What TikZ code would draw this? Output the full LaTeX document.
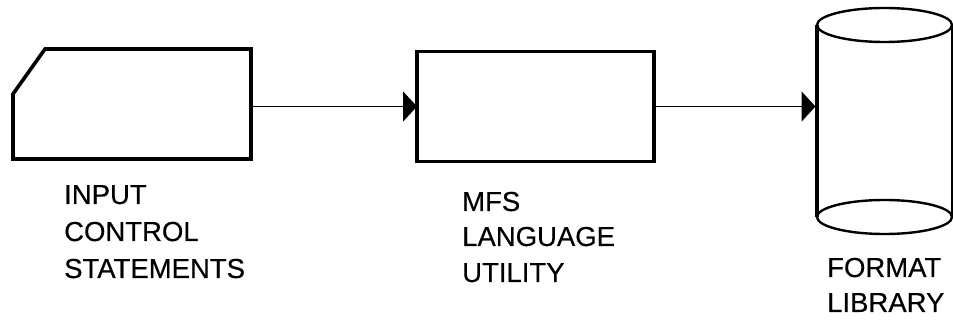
\documentclass[tikz,border=0pt]{standalone}
\usepackage{fontspec}
\newfontfamily\labfont[FakeBold=0.35]{Liberation Sans}
\usetikzlibrary{arrows.meta}
\tikzset{
  shapeline/.style={draw=black, line width=3.6pt, line join=miter},
  thinrim/.style={draw=black, line width=2.4pt},
  flowline/.style={draw=black, line width=1.7pt, -{Triangle[length=14pt,width=30pt]}},
  anchorbox/.style={inner sep=0pt, outer sep=0pt},
  lab/.style={anchor=base west, inner sep=0pt, font=\labfont\fontsize{27.5}{27.5}\selectfont}
}
\begin{document}
\begin{tikzpicture}[x=1pt,y=-1pt]
  \useasboundingbox (0,0) rectangle (953,320);

  \node[anchorbox, minimum width=238pt, minimum height=110pt] (input) at (132,106.5) {};
  \node[shapeline, anchorbox, minimum width=237pt, minimum height=110pt] (utility) at (535.5,106.5) {};
  \node[anchorbox, minimum width=135pt, minimum height=192pt] (library) at (884.5,106.5) {};

  \draw[shapeline] (13,94) -- (45,49) -- (251,49) -- (251,159) -- (13,159) -- cycle;

  \draw[thinrim] (884.5,25) ellipse (67.5 and 17);
  \draw[thinrim] (884.5,217) ellipse (67.5 and 17);
  \draw[shapeline] (817,25) -- (817,217);
  \draw[thinrim] (952,25) -- (952,217);

  \draw[flowline] (input.east) -- (utility.west);
  \draw[flowline] (utility.east) -- ([xshift=-1.5pt]library.west);

  \node[lab] (inputa) at (64,204) {INPUT};
  \node[lab] (inputb) at (64,241) {CONTROL};
  \node[lab] (inputc) at (64,278) {STATEMENTS};

  \node[lab] (utila) at (462,211) {MFS};
  \node[lab] (utilb) at (462,246) {LANGUAGE};
  \node[lab] (utilc) at (462,282) {UTILITY};

  \node[lab] (liba) at (827,277) {FORMAT};
  \node[lab] (libb) at (827,312) {LIBRARY};
\end{tikzpicture}
\end{document}
